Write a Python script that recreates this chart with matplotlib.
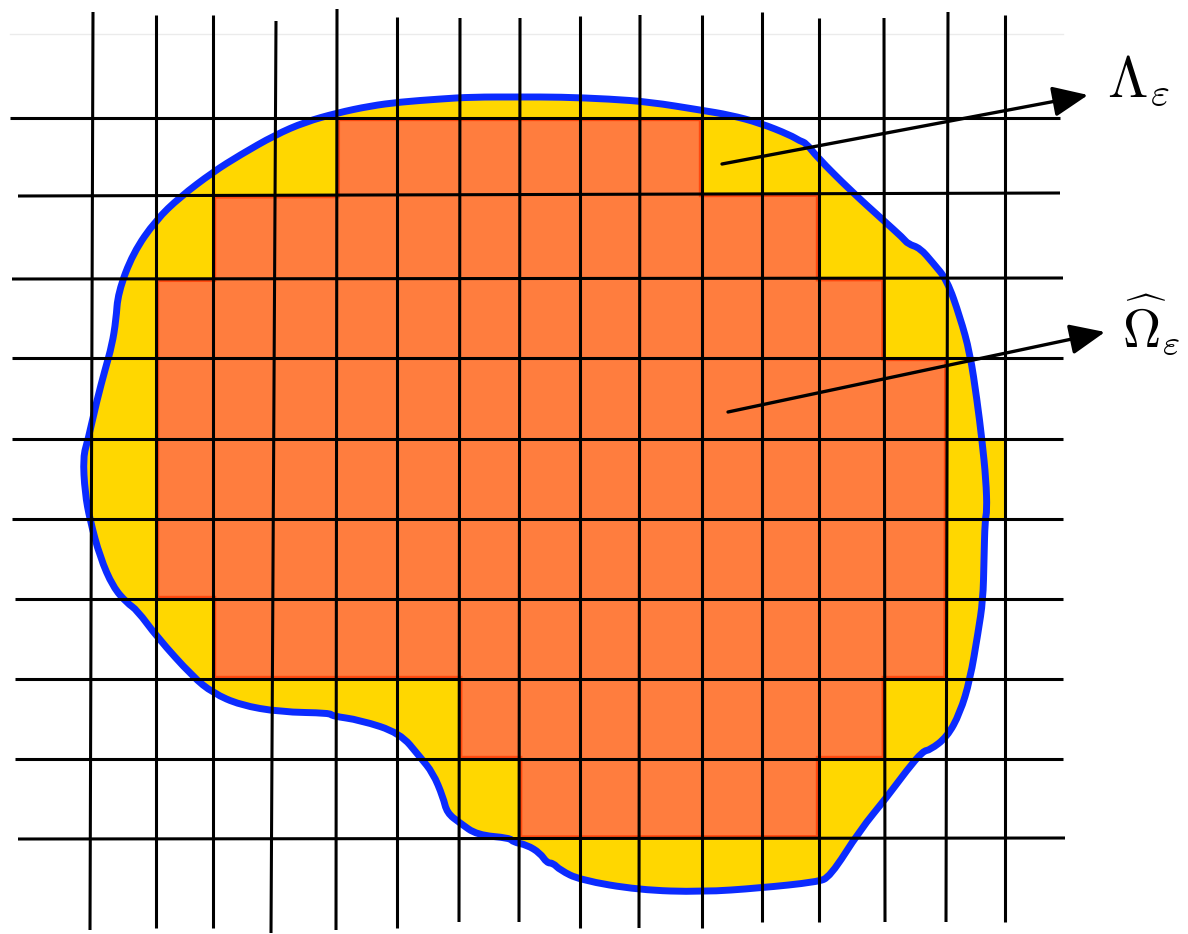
import matplotlib
matplotlib.use("Agg")
import matplotlib.pyplot as plt
from matplotlib.patches import Polygon, PathPatch
from matplotlib.path import Path

plt.rcParams['mathtext.fontset'] = 'cm'

# ---- grid lines (hand drawn, slightly tilted) ----
col_x_top = [93, 156, 213, 276, 337, 397, 460, 520, 580, 640, 702, 762, 819, 884, 948, 1005]
col_x_bot = [90, 156, 213, 271, 336, 397, 459, 519, 580, 639, 702, 762, 819, 885, 946, 1005]
col_y_top = [12, 15, 15, 21, 9, 17, 18, 18, 16, 15, 15, 12, 18, 18, 12, 15]
col_y_bot = [930, 928, 928, 933, 930, 928, 922, 922, 928, 928, 928, 922, 922, 922, 922, 922]

row_y_left = [118, 196, 279, 358, 439, 519, 599, 679, 759, 839]
row_y_right = [118, 193, 278, 358, 439, 519, 599, 679, 759, 838]
row_x_start = [10, 18, 12, 12, 12, 12, 15, 15, 15, 18]
row_x_end = [1060, 1060, 1063, 1063, 1063, 1063, 1063, 1063, 1063, 1065]

# ---- discrete domain: first/last grid column of orange cells per row ----
orange_first_col = [4, 2, 1, 1, 1, 1, 2, 6, 7]
orange_last_col = [10, 12, 13, 14, 14, 14, 14, 13, 12]
# extra yellow cell (row index, first col, last col)
extra_yellow_cells = [(4, 14, 15)]

# ---- smooth domain boundary (blue curve) ----
boundary_x = [472, 520, 560, 610, 650, 700, 730, 760, 790, 800, 806, 817, 850, 883, 903, 908,
              920, 933, 947, 960, 970, 977, 982, 986, 987, 985, 984, 983, 978, 970, 960, 947,
              930, 923, 907, 887, 860, 830, 817, 760, 702, 639, 580, 560, 553, 547, 540, 527,
              513, 510, 477, 460, 447, 443, 433, 420, 400, 360, 332, 330, 280, 240, 213, 193,
              157, 137, 127, 113, 100, 90, 85, 83, 88, 97, 105, 112, 116, 118, 133, 156,
              180, 213, 240, 275, 305, 337, 370, 400, 440]
boundary_y = [97, 97, 97, 99, 102, 110, 115, 123, 135, 141, 143, 157, 190, 220, 238, 244,
              248, 263, 280, 317, 353, 400, 440, 480, 511, 520, 560, 600, 633, 680, 713, 737,
              750, 751, 770, 797, 830, 877, 882, 888, 892, 890, 880, 870, 863, 863, 853, 845,
              842, 838, 835, 823, 813, 797, 773, 757, 733, 720, 716, 713, 712, 705, 693, 677,
              637, 610, 603, 587, 557, 520, 493, 457, 440, 400, 370, 345, 320, 293, 253, 220,
              197, 172, 155, 135, 122, 113, 106, 102, 99]

# ---- annotations ----
labels = [r'$\Lambda_{\varepsilon}$', r'$\widehat{\Omega}_{\varepsilon}$']
arrow_start = [(722, 164), (728, 412)]
arrow_end = [(1088, 95), (1105, 332)]
label_pos = [(1107, 97), (1122, 347)]
label_size = [42, 38]

ORANGE = '#FF7D3E'
ORANGE_EDGE = '#FF4A10'
YELLOW = '#FFD700'
BLUE = '#0B2BFF'

W, H = 1188, 934
fig = plt.figure(figsize=(W / 100, H / 100), dpi=100)
ax = fig.add_axes([0, 0, 1, 1])
ax.set_xlim(0, W)
ax.set_ylim(H, 0)
ax.axis('off')


def vx(j, y):
    return col_x_top[j] + (col_x_bot[j] - col_x_top[j]) * (y - col_y_top[j]) / (col_y_bot[j] - col_y_top[j])


def hy(i, x):
    return row_y_left[i] + (row_y_right[i] - row_y_left[i]) * (x - row_x_start[i]) / (row_x_end[i] - row_x_start[i])


def corner(i, j):
    y = row_y_left[i]
    x = vx(j, y)
    for _ in range(3):
        y = hy(i, x)
        x = vx(j, y)
    return (x, y)


def smooth_closed_path(xs, ys):
    """Closed quadratic-Bezier path using the drawn points as control points."""
    n = len(xs)
    pts = list(zip(xs, ys))
    mids = [((pts[k][0] + pts[(k + 1) % n][0]) / 2, (pts[k][1] + pts[(k + 1) % n][1]) / 2)
            for k in range(n)]
    verts = [mids[-1]]
    codes = [Path.MOVETO]
    for k in range(n):
        verts += [pts[k], mids[k]]
        codes += [Path.CURVE3, Path.CURVE3]
    verts.append(mids[-1])
    codes.append(Path.CLOSEPOLY)
    return Path(verts, codes)


# faint scan line at top
ax.plot([10, 1063], [34, 34], color='#ebebeb', lw=1.0, zorder=0.5)

bpath = smooth_closed_path(boundary_x, boundary_y)

# yellow domain
ax.add_patch(PathPatch(bpath, facecolor=YELLOW, edgecolor='none', zorder=1))
for (i, a, b) in extra_yellow_cells:
    ax.add_patch(Polygon([corner(i, a), corner(i, b), corner(i + 1, b), corner(i + 1, a)],
                         closed=True, facecolor=YELLOW, edgecolor='none', zorder=1))

# orange staircase union
right_side = []
left_side = []
for i, (a, b) in enumerate(zip(orange_first_col, orange_last_col)):
    right_side += [corner(i, b), corner(i + 1, b)]
    left_side += [corner(i, a), corner(i + 1, a)]
verts = right_side + left_side[::-1]
opoly = Polygon(verts, closed=True, facecolor=ORANGE, edgecolor='none', zorder=2)
ax.add_patch(opoly)
oedge = Polygon(verts, closed=True, facecolor='none', edgecolor=ORANGE_EDGE, lw=4.6, zorder=2.5)
ax.add_patch(oedge)
oedge.set_clip_path(opoly)

# blue boundary
ax.add_patch(PathPatch(bpath, facecolor='none', edgecolor=BLUE, lw=5.0,
                       joinstyle='round', zorder=3))

# grid
for j in range(len(col_x_top)):
    ax.plot([col_x_top[j], col_x_bot[j]], [col_y_top[j], col_y_bot[j]], color='black',
            lw=2.2, zorder=4, solid_capstyle='butt')
for i in range(len(row_y_left)):
    ax.plot([row_x_start[i], row_x_end[i]], [row_y_left[i], row_y_right[i]], color='black',
            lw=2.2, zorder=4, solid_capstyle='butt')

# arrows and labels
for s, e, lab, p, fs in zip(arrow_start, arrow_end, labels, label_pos, label_size):
    ax.annotate('', xy=e, xytext=s,
                arrowprops=dict(arrowstyle='-|>,head_length=0.6,head_width=0.26',
                                mutation_scale=36, lw=2.4, color='black',
                                shrinkA=0, shrinkB=0),
                zorder=5)
    ax.text(p[0], p[1], lab, fontsize=fs, color='black', ha='left', va='baseline',
            zorder=6)

fig.savefig('out.png', dpi=100)
